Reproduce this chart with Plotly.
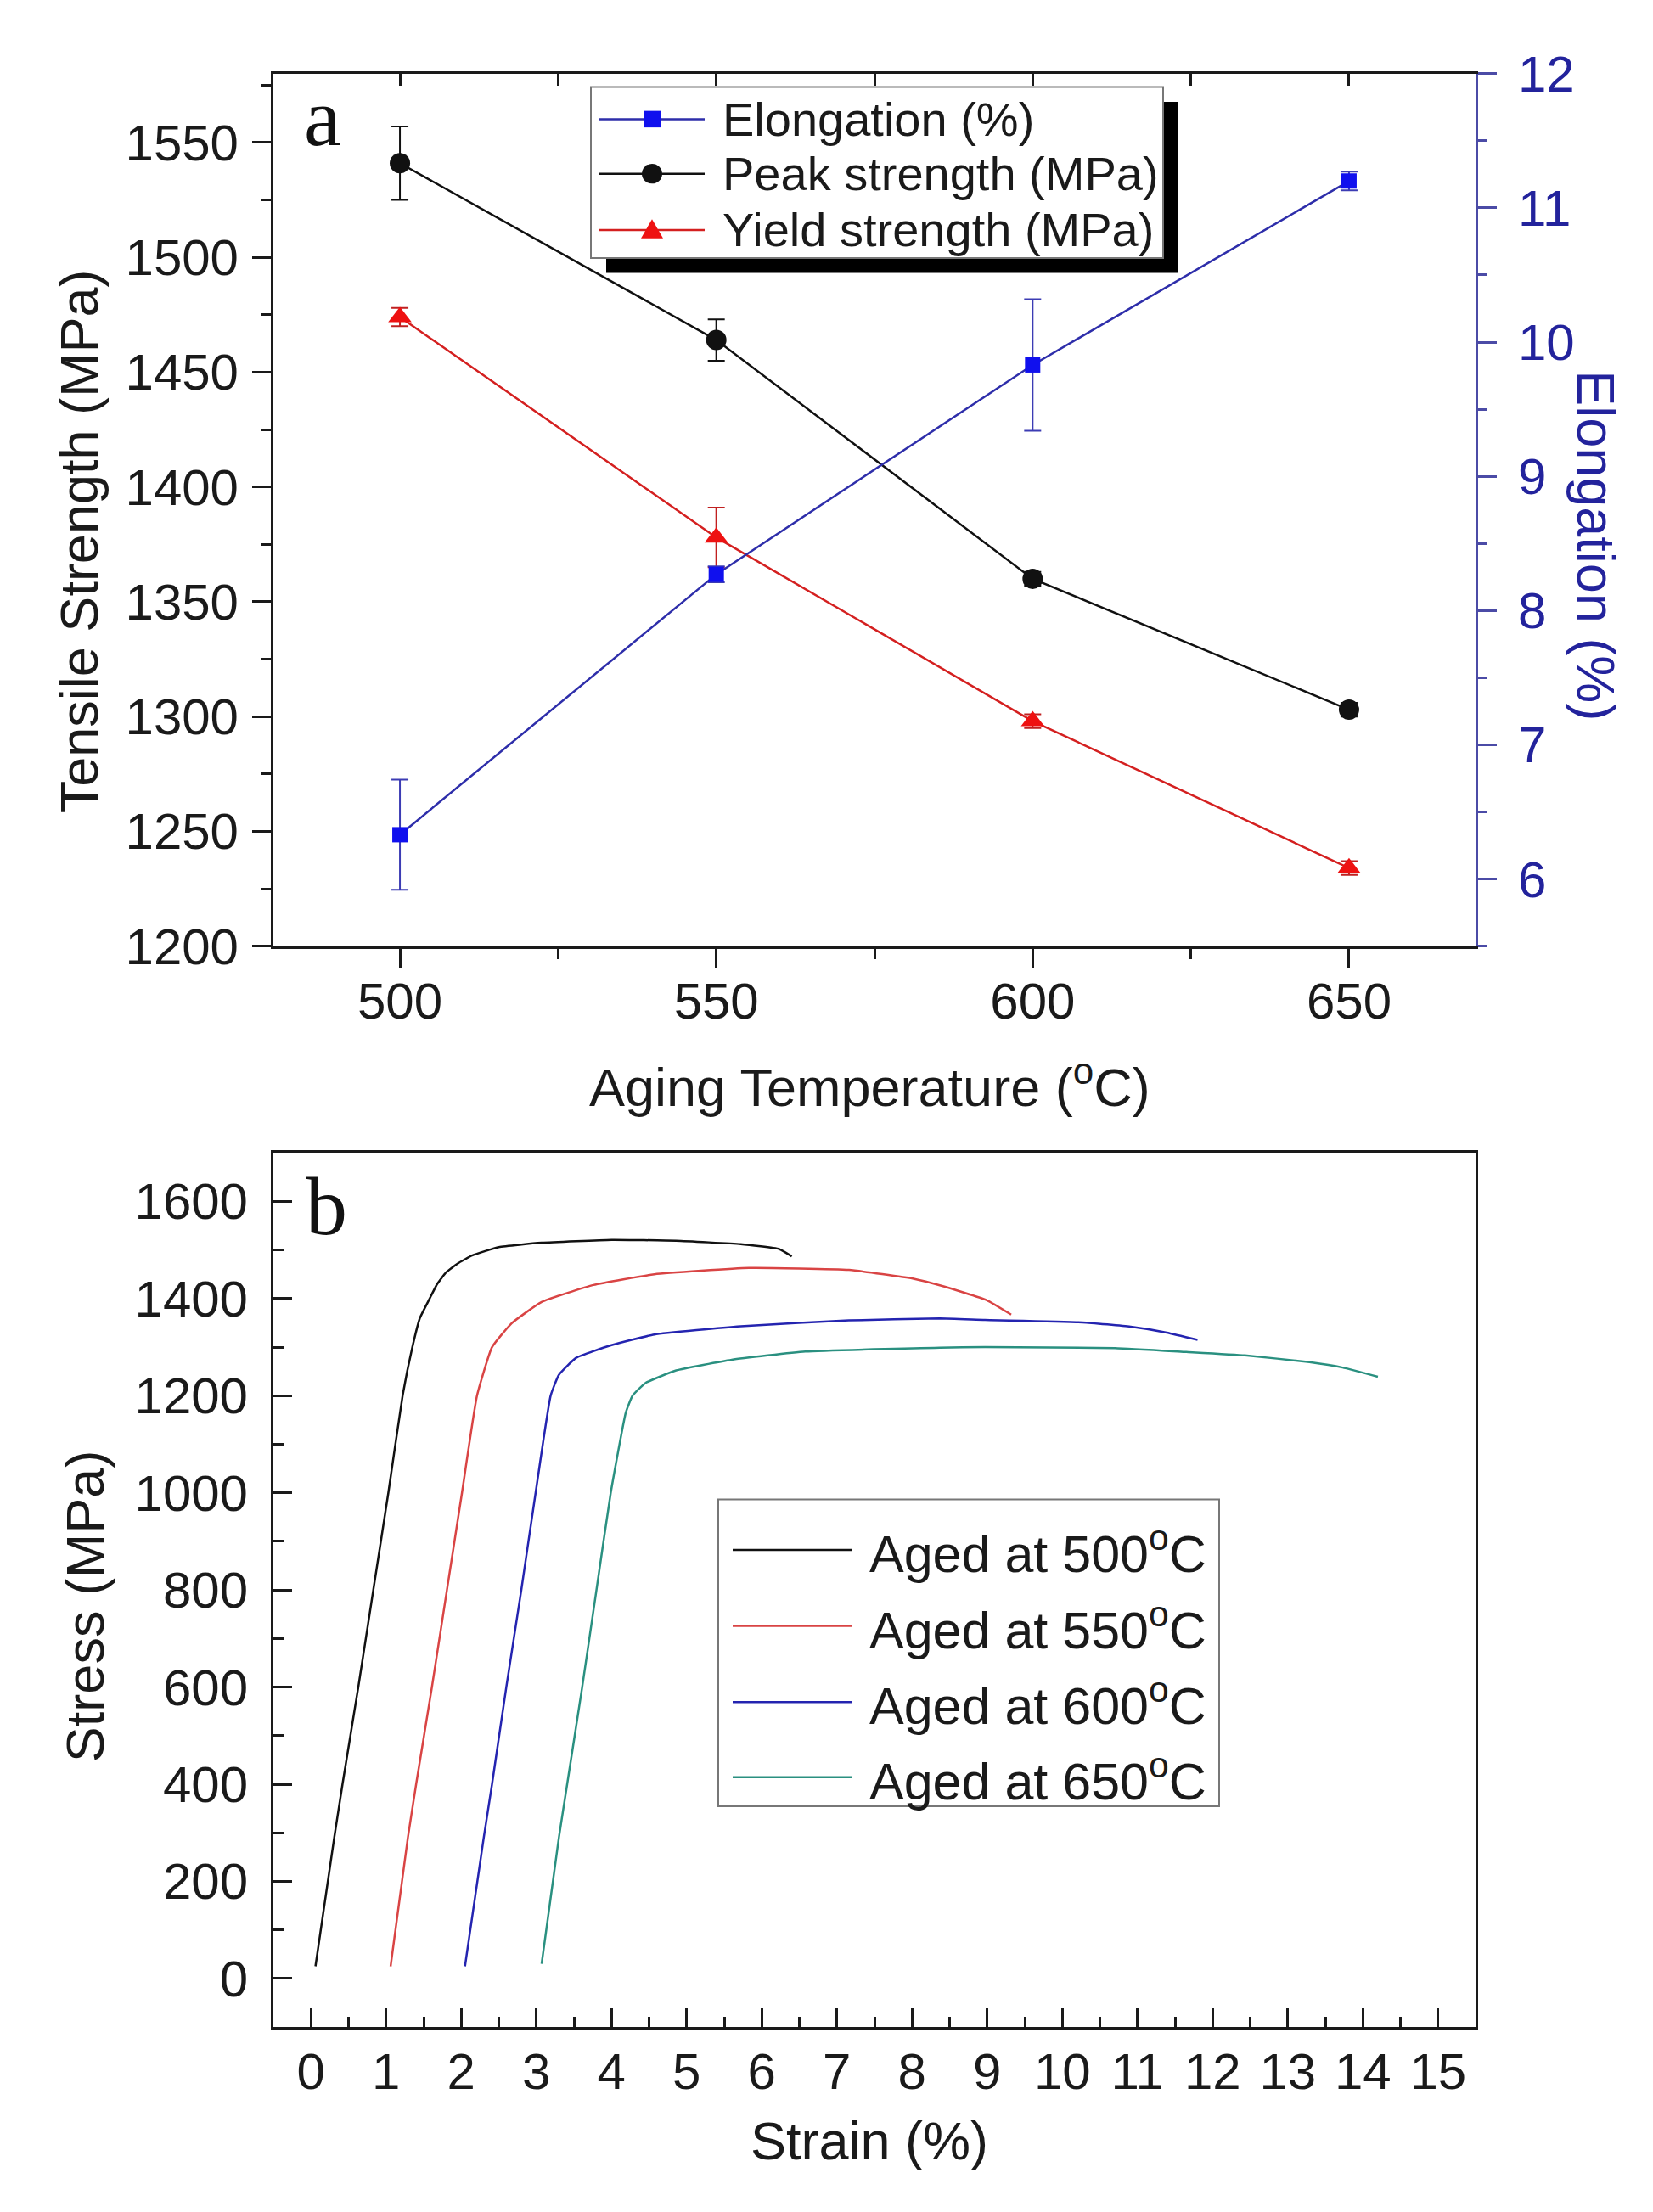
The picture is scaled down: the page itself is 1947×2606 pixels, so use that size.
import plotly.graph_objects as go

# ------------ panel a: properties vs aging temperature ------------
temps = [500, 550, 600, 650]
peak_strength = [1541, 1464, 1360, 1303]
peak_err = [16, 9, 3, 3]
yield_strength = [1474, 1378, 1298, 1234]
yield_err = [4, 13, 3, 3]
elongation = [6.33, 8.27, 9.83, 11.2]
elong_err = [0.41, 0.06, 0.49, 0.07]

# ------------ panel b: stress-strain curves ------------
strain_500 = [0.06, 0.31, 0.42, 0.63, 0.83, 1.03, 1.22, 1.35, 1.45, 1.58, 1.68, 1.80, 1.95, 2.15, 2.50, 3.07, 4.0, 4.86, 5.72, 6.23, 6.4]
stress_500 = [25, 290, 400, 600, 800, 1000, 1200, 1300, 1360, 1400, 1430, 1454, 1472, 1489, 1506, 1515, 1521, 1519, 1512, 1502, 1487]
strain_550 = [1.06, 1.29, 1.40, 1.61, 1.81, 2.01, 2.21, 2.41, 2.67, 3.07, 3.76, 4.57, 5.83, 7.16, 8.02, 8.4, 8.99, 9.32]
stress_550 = [25, 290, 400, 600, 800, 1000, 1200, 1300, 1349, 1393, 1428, 1450, 1463, 1459, 1441, 1426, 1397, 1367]
strain_600 = [2.05, 2.30, 2.41, 2.60, 2.80, 2.99, 3.19, 3.30, 3.53, 4.0, 4.57, 5.72, 7.16, 8.37, 8.97, 10.27, 10.91, 11.39, 11.8]
stress_600 = [25, 290, 400, 600, 800, 1000, 1200, 1243, 1278, 1304, 1326, 1343, 1355, 1359, 1356, 1351, 1342, 1330, 1315]
strain_650 = [3.07, 3.30, 3.41, 3.61, 3.80, 3.99, 4.19, 4.28, 4.45, 4.86, 5.6, 6.58, 8.37, 8.97, 10.7, 11.65, 12.43, 13.29, 13.73, 14.2]
stress_650 = [30, 290, 400, 600, 800, 1000, 1165, 1200, 1226, 1252, 1274, 1291, 1299, 1300, 1298, 1290, 1283, 1269, 1258, 1239]

curve_temps = ["500", "550", "600", "650"]
curve_colors = ["#111111", "#d94444", "#2424b0", "#2a9080"]

W, H = 1947, 2606
SANS = "Liberation Sans, Arial, sans-serif"
SERIF = "Liberation Serif, Times New Roman, serif"
AX = "#1a1a1a"
BLUE_AX = "#4b4ba6"
BLUE_TXT = "#23239c"


def fx(p):
    return p / W


def fy(p):
    return 1 - p / H


fig = go.Figure()

# ------------ panel a traces ------------
fig.add_trace(go.Scatter(
    x=temps, y=peak_strength, mode="lines+markers", name="Peak strength (MPa)",
    line=dict(color="#111111", width=2.5),
    marker=dict(symbol="circle", size=24, color="#111111"),
    error_y=dict(type="data", array=peak_err, color="#111111", thickness=2, width=10),
    xaxis="x", yaxis="y", showlegend=False))
fig.add_trace(go.Scatter(
    x=temps, y=yield_strength, mode="lines+markers", name="Yield strength (MPa)",
    line=dict(color="#d42020", width=2.5),
    marker=dict(symbol="triangle-up", size=24, color="#ee1111"),
    error_y=dict(type="data", array=yield_err, color="#c02020", thickness=2, width=10),
    xaxis="x", yaxis="y", showlegend=False))
fig.add_trace(go.Scatter(
    x=temps, y=elongation, mode="lines+markers", name="Elongation (%)",
    line=dict(color="#2e2eaa", width=2.5),
    marker=dict(symbol="square", size=18, color="#1010ee"),
    error_y=dict(type="data", array=elong_err, color="#3c3cb4", thickness=2, width=10),
    xaxis="x", yaxis="y2", showlegend=False))
# empty trace so the top mirror axis (inward ticks) gets drawn
fig.add_trace(go.Scatter(x=[None], y=[None], xaxis="x3", yaxis="y",
                         showlegend=False, hoverinfo="skip"))

# ------------ panel b traces ------------
curves = [(strain_500, stress_500), (strain_550, stress_550),
          (strain_600, stress_600), (strain_650, stress_650)]
for (sx, sy), t, c in zip(curves, curve_temps, curve_colors):
    fig.add_trace(go.Scatter(
        x=sx, y=sy, mode="lines", name=f"Aged at {t}°C",
        line=dict(color=c, width=2.5, shape="spline", smoothing=0.4),
        xaxis="x2", yaxis="y3", showlegend=False))

tickfont = dict(family=SANS, size=60, color="#1a1a1a")
xdom = [fx(314), fx(1730)]

fig.update_layout(
    width=W, height=H,
    margin=dict(l=0, r=0, t=0, b=0),
    paper_bgcolor="white", plot_bgcolor="white",
    font=dict(family=SANS),
    xaxis=dict(domain=xdom, anchor="y", range=[480, 670], tick0=500, dtick=50,
               ticks="outside", ticklen=22, tickwidth=3, tickcolor=AX,
               minor=dict(tick0=500, dtick=25, ticks="outside", ticklen=12, tickwidth=3, tickcolor=AX),
               showline=True, linewidth=3, linecolor=AX, showgrid=False, zeroline=False,
               tickfont=tickfont, ticklabelstandoff=-12),
    xaxis3=dict(overlaying="x", side="top", anchor="y", range=[480, 670], tick0=500, dtick=25,
                ticks="inside", ticklen=14, tickwidth=3, tickcolor=AX, showticklabels=False,
                showline=True, linewidth=3, linecolor=AX, showgrid=False, zeroline=False),
    yaxis=dict(domain=[fy(1102), fy(47)], anchor="x", range=[1200, 1580], tick0=1200, dtick=50,
               ticks="outside", ticklen=22, tickwidth=3, tickcolor=AX,
               minor=dict(tick0=1200, dtick=25, ticks="outside", ticklen=12, tickwidth=3, tickcolor=AX),
               showline=True, linewidth=3, linecolor=AX, showgrid=False, zeroline=False,
               tickfont=tickfont, ticklabelstandoff=4),
    yaxis2=dict(overlaying="y", side="right", anchor="x", range=[5.5, 12], tick0=6, dtick=1,
                ticks="outside", ticklen=22, tickwidth=3, tickcolor=BLUE_AX,
                minor=dict(tick0=6, dtick=0.5, ticks="outside", ticklen=11, tickwidth=3, tickcolor=BLUE_AX),
                showline=True, linewidth=3, linecolor=BLUE_AX, showgrid=False, zeroline=False,
                tickfont=dict(family=SANS, size=60, color=BLUE_TXT), ticklabelstandoff=13),
    xaxis2=dict(domain=xdom, anchor="y3", range=[-0.5, 15.5], tick0=0, dtick=1,
                ticks="inside", ticklen=22, tickwidth=3, tickcolor=AX,
                minor=dict(tick0=0, dtick=0.5, ticks="inside", ticklen=12, tickwidth=3, tickcolor=AX),
                showline=True, mirror=True, linewidth=3, linecolor=AX, showgrid=False, zeroline=False,
                tickfont=tickfont, ticklabelstandoff=-2),
    yaxis3=dict(domain=[fy(2409), fy(1352)], anchor="x2", range=[-100, 1700], tick0=0, dtick=200,
                ticks="inside", ticklen=22, tickwidth=3, tickcolor=AX,
                minor=dict(tick0=0, dtick=100, ticks="inside", ticklen=12, tickwidth=3, tickcolor=AX),
                showline=True, mirror=True, linewidth=3, linecolor=AX, showgrid=False, zeroline=False,
                tickfont=tickfont, ticklabelstandoff=15),
)

# ------------ axis titles and panel letters ------------
title_font = dict(family=SANS, size=63, color="#1a1a1a")
ann = [
    dict(x=fx(1017), y=fy(1268), text="Aging Temperature (<sup>o</sup>C)", font=title_font),
    dict(x=fx(85), y=fy(613), text="Tensile Strength (MPa)", textangle=-90, font=title_font),
    dict(x=fx(1872), y=fy(617), text="Elongation (%)", textangle=90,
         font=dict(family=SANS, size=63, color=BLUE_TXT)),
    dict(x=fx(1016), y=fy(2546), text="Strain (%)", font=title_font),
    dict(x=fx(92), y=fy(1900), text="Stress (MPa)", textangle=-90, font=title_font),
    dict(x=fx(372), y=fy(100), text="a", font=dict(family=SERIF, size=98, color="#111111")),
    dict(x=fx(376), y=fy(1416), text="b", font=dict(family=SERIF, size=98, color="#111111")),
]

shapes = []

# ------------ legend a (boxed, with a black drop shadow) ------------
shapes.append(dict(type="rect", xref="paper", yref="paper", layer="above",
                   x0=fx(706), x1=fx(1380), y0=fy(288), y1=fy(81),
                   fillcolor="black", line=dict(width=0)))
shapes.append(dict(type="rect", xref="paper", yref="paper", layer="above",
                   x0=fx(688), x1=fx(1362), y0=fy(270), y1=fy(63),
                   fillcolor="white", line=dict(color="#777777", width=2)))
leg_a = [("Elongation (%)", "#2e2eaa", "#1010ee", "square", 102),
         ("Peak strength (MPa)", "#111111", "#111111", "circle", 168),
         ("Yield strength (MPa)", "#d42020", "#ee1111", "triangle", 236)]
for label, lc, mc, sym, ry in leg_a:
    shapes.append(dict(type="line", xref="paper", yref="paper", layer="above",
                       x0=fx(698), x1=fx(822), y0=fy(ry), y1=fy(ry),
                       line=dict(color=lc, width=2.5)))
    if sym == "square":
        shapes.append(dict(type="rect", xref="paper", yref="paper", layer="above",
                           x0=fx(750), x1=fx(770), y0=fy(ry + 10), y1=fy(ry - 10),
                           fillcolor=mc, line=dict(width=0)))
    elif sym == "circle":
        shapes.append(dict(type="circle", xref="paper", yref="paper", layer="above",
                           x0=fx(748), x1=fx(772), y0=fy(ry + 12), y1=fy(ry - 12),
                           fillcolor=mc, line=dict(width=0)))
    else:
        path = (f"M {fx(747)},{fy(ry + 10)} L {fx(773)},{fy(ry + 10)} "
                f"L {fx(760)},{fy(ry - 13)} Z")
        shapes.append(dict(type="path", xref="paper", yref="paper", layer="above",
                           path=path, fillcolor=mc, line=dict(width=0)))
    ann.append(dict(x=fx(841), y=fy(ry), text=label, xanchor="left",
                    font=dict(family=SANS, size=56, color="#1a1a1a")))

# ------------ legend b ------------
shapes.append(dict(type="rect", xref="paper", yref="paper", layer="above",
                   x0=fx(838), x1=fx(1428), y0=fy(2142), y1=fy(1771),
                   fillcolor="white", line=dict(color="#777777", width=2)))
for t, c, ry in zip(curve_temps, curve_colors, [1832, 1924, 2016, 2107]):
    shapes.append(dict(type="line", xref="paper", yref="paper", layer="above",
                       x0=fx(855), x1=fx(996), y0=fy(ry), y1=fy(ry),
                       line=dict(color=c, width=2.5)))
    ann.append(dict(x=fx(1014), y=fy(ry), text=f"Aged at {t}<sup>o</sup>C", xanchor="left",
                    font=dict(family=SANS, size=61, color="#1a1a1a")))

for a in ann:
    a.setdefault("xanchor", "center")
    a.update(xref="paper", yref="paper", yanchor="middle", showarrow=False)

fig.update_layout(annotations=ann, shapes=shapes)

fig.write_html("out.html")
